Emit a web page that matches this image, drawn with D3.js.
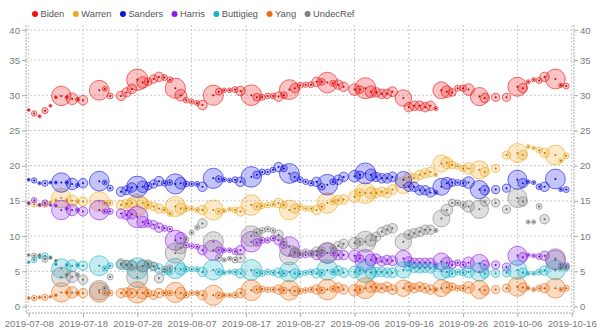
<!DOCTYPE html>
<html><head><meta charset="utf-8">
<script src="https://cdn.jsdelivr.net/npm/d3@7"></script>
<style>
body{margin:0;background:#fff}
svg{display:block;font-family:"Liberation Sans",Arial,Helvetica,sans-serif}
</style>
</head><body>
<svg id="chart" width="600" height="330"></svg>
<script>
const seriesNames = ["Biden","Warren","Sanders","Harris","Buttigieg","Yang","UndecRef"];
const seriesColors = ["#f01010","#f0a81e","#1414e6","#8c1ee6","#1ab4c8","#eb6e14","#808080"];

const pollDates = [
 "2019-07-08","2019-07-09","2019-07-10","2019-07-11","2019-07-12","2019-07-13","2019-07-14","2019-07-15","2019-07-16","2019-07-17","2019-07-18",
 "2019-07-21","2019-07-22","2019-07-23",
 "2019-07-25","2019-07-26","2019-07-27","2019-07-28","2019-07-29","2019-07-30","2019-07-31","2019-08-01","2019-08-02","2019-08-03","2019-08-04","2019-08-05","2019-08-06","2019-08-07","2019-08-08","2019-08-09",
 "2019-08-11","2019-08-12","2019-08-13","2019-08-14","2019-08-15","2019-08-16",
 "2019-08-18","2019-08-19","2019-08-20","2019-08-21","2019-08-22","2019-08-23","2019-08-24","2019-08-25","2019-08-26","2019-08-27","2019-08-28","2019-08-29","2019-08-30","2019-08-31","2019-09-01","2019-09-02","2019-09-03","2019-09-04",
 "2019-09-06","2019-09-07","2019-09-08","2019-09-09","2019-09-10","2019-09-11","2019-09-12","2019-09-13",
 "2019-09-15","2019-09-16","2019-09-17","2019-09-18","2019-09-19","2019-09-20","2019-09-21","2019-09-22","2019-09-23","2019-09-24","2019-09-25","2019-09-26","2019-09-27",
 "2019-09-29","2019-09-30","2019-10-02","2019-10-04",
 "2019-10-06","2019-10-07","2019-10-08","2019-10-09","2019-10-10","2019-10-11",
 "2019-10-13","2019-10-14","2019-10-15"
];

const sampleSizes = [
 300,1000,400,1300,300,300,12500,400,4500,600,3000,
 13000,800,1200,
 3000,2800,3000,15000,4500,2000,2400,3000,1200,1100,13500,4500,1100,900,900,3000,
 13500,1500,700,700,1200,3000,
 14000,2000,1200,1100,1000,3000,1500,13000,3000,1200,1000,1100,3000,1500,14000,1200,3000,3000,
 4500,2000,14500,4500,3000,3000,3000,3200,
 9000,3000,3000,3000,3000,3000,600,9500,4500,2000,1200,1500,4500,
 11000,3000,2200,2200,
 12000,3000,600,600,1200,3000,
 13000,600,1200
];

const biden = [
 27.9,27.4,27.0,27.8,28.5,29.7,29.9,29.7,29.5,29.4,29.3,
 30.7,30.9,29.9,
 29.9,30.4,30.9,32.2,31.8,31.9,32.3,32.6,32.5,32.2,31.0,30.0,29.3,29.1,28.9,28.6,
 30.0,30.5,30.7,30.7,30.8,30.6,
 30.0,29.7,29.7,29.9,29.9,29.8,30.0,30.8,31.0,31.4,31.5,31.5,31.9,31.9,31.8,31.7,31.5,31.2,
 30.8,30.8,31.0,30.5,30.4,30.2,30.2,30.5,
 29.6,28.3,28.5,28.5,28.3,28.5,28.1,30.7,30.5,30.4,31.0,31.0,30.8,
 29.8,29.6,29.7,29.7,
 31.2,31.0,31.9,32.2,32.1,32.6,
 32.3,31.4,31.3
];
const warren = [
 14.6,14.5,14.4,14.5,14.8,15.1,15.4,15.1,15.0,14.9,14.9,
 14.9,14.7,14.7,
 14.4,14.6,14.7,14.4,14.7,14.4,14.2,13.9,13.7,13.2,14.2,13.9,13.9,13.9,13.7,13.7,
 13.7,13.5,13.6,13.8,13.7,13.5,
 14.4,14.2,14.3,14.4,14.5,14.7,14.4,13.7,13.9,14.2,13.9,13.9,13.7,14.2,14.7,14.9,15.1,15.2,
 15.6,16.2,16.1,16.1,16.1,16.3,16.1,16.6,
 17.2,18.4,18.2,18.7,18.9,19.1,18.7,20.3,20.4,20.1,19.9,19.6,19.6,
 19.4,19.1,19.6,21.5,
 21.8,21.5,22.7,22.5,22.2,21.8,
 21.5,20.7,21.4
];
const sanders = [
 18.0,17.9,17.5,17.5,17.6,17.6,17.6,17.6,17.4,17.2,17.5,
 17.8,17.6,16.8,
 16.3,16.5,16.9,17.0,17.0,17.1,17.4,17.8,17.5,17.6,17.4,17.5,17.4,17.4,17.4,17.0,
 18.2,18.1,18.0,17.9,18.0,17.7,
 18.4,18.7,19.1,19.1,19.4,19.8,19.6,18.9,18.4,18.0,17.7,17.5,17.7,17.0,17.3,17.7,18.0,18.4,
 18.5,18.7,18.9,18.7,18.4,18.2,18.2,18.4,
 18.0,17.0,17.0,16.5,16.5,16.2,16.2,17.0,17.5,17.6,17.6,17.5,17.6,
 16.6,16.5,16.6,16.8,
 18.0,17.5,17.7,17.6,17.0,17.0,
 18.1,16.6,16.6
];
const harris = [
 14.7,15.1,14.4,14.7,14.4,14.3,13.7,13.9,13.7,13.7,13.5,
 13.7,13.5,13.5,
 13.2,13.0,13.1,12.7,12.0,11.8,11.6,11.2,11.1,11.0,9.4,9.7,8.7,8.6,8.5,8.0,
 8.0,8.0,8.0,8.0,7.8,8.0,
 9.2,9.1,9.4,9.4,9.7,9.4,8.7,8.5,7.6,7.3,7.3,7.6,7.3,7.6,7.6,7.6,7.3,7.3,
 7.2,6.8,6.6,6.6,6.8,6.4,6.6,6.5,
 6.8,6.4,6.2,6.2,6.2,6.2,5.9,6.4,6.2,5.9,6.2,5.9,6.2,
 6.1,5.9,5.9,5.6,
 7.2,7.0,7.3,7.2,7.1,7.2,
 6.6,5.9,5.8
];
const buttigieg = [
 6.3,6.6,7.0,7.2,7.0,6.0,5.4,5.9,5.8,5.9,5.8,
 5.8,5.4,5.8,
 5.9,5.9,5.8,5.4,5.8,5.9,5.7,5.4,4.9,4.9,5.4,5.3,5.3,5.3,5.3,4.9,
 5.2,4.9,4.8,4.9,4.9,4.7,
 5.2,4.8,4.7,4.9,4.8,4.8,4.7,4.9,4.7,4.6,4.8,4.9,4.7,4.8,5.2,4.9,5.1,4.8,
 4.9,5.1,4.9,4.8,4.9,4.9,4.8,4.8,
 5.2,5.7,5.5,5.4,5.5,5.4,5.5,5.0,4.9,4.7,4.9,4.8,4.9,
 4.9,4.7,4.7,4.8,
 5.2,4.8,4.7,4.7,4.9,5.1,
 5.2,5.4,5.5
];
const yang = [
 1.2,1.2,1.3,1.3,1.4,1.6,2.0,2.0,2.0,1.9,1.9,
 2.0,1.9,1.9,
 1.9,2.0,1.9,2.0,1.9,1.9,1.6,1.9,1.9,1.9,2.0,1.9,1.6,1.9,1.9,1.6,
 1.6,1.6,1.6,1.6,1.6,1.9,
 2.3,2.4,2.5,2.4,2.4,2.4,2.3,2.3,2.2,2.2,2.3,2.4,2.4,2.3,2.4,2.5,2.7,2.4,
 2.3,2.4,2.6,2.8,2.7,2.6,2.8,2.4,
 2.6,2.8,2.6,2.8,2.6,2.4,2.4,2.6,2.7,2.8,2.6,2.6,2.7,
 2.4,2.3,2.4,2.6,
 2.8,2.7,2.6,2.4,2.6,2.6,
 2.6,2.4,2.6
];
const undecRef = [
 7.3,7.2,7.3,6.7,6.9,6.5,4.2,4.5,4.2,4.5,3.8,
 2.3,2.6,4.2,
 6.1,5.9,5.9,4.2,5.7,6.1,5.7,4.0,5.3,5.5,7.6,8.3,9.5,10.5,11.2,11.8,
 9.2,6.9,6.6,6.8,6.6,6.9,
 10.0,10.5,10.8,11.0,10.8,10.2,9.2,7.3,7.8,7.6,7.8,7.4,7.8,8.0,7.6,8.3,8.6,8.9,
 9.0,9.2,9.2,9.4,9.9,10.6,10.9,11.1,
 9.2,10.2,10.4,10.6,10.9,10.9,10.8,12.5,13.7,14.7,14.7,14.4,14.2,
 13.8,14.9,14.7,13.8,
 15.4,14.9,12.0,12.0,14.2,12.4,
 6.8,5.5,5.6
];
const seriesValues = [biden, warren, sanders, harris, buttigieg, yang, undecRef];

const yTickValues = [0,5,10,15,20,25,30,35,40];
const xTickLabels = ["2019-07-08","2019-07-18","2019-07-28","2019-08-07","2019-08-17","2019-08-27","2019-09-06","2019-09-16","2019-09-26","2019-10-06","2019-10-16"];

// ---------------- drawing ----------------
const svg = d3.select("#chart");
const parse = d3.utcParse("%Y-%m-%d");
const plot = {left: 26, right: 574, top: 25, bottom: 313};

const x = d3.scaleUtc()
  .domain([parse(xTickLabels[0]), parse(xTickLabels[xTickLabels.length - 1])])
  .range([28.7, 571.7]);
const y = d3.scaleLinear().domain([0, 35, 40]).range([306.5, 60, 30]);
const r = d3.scaleSqrt().domain([0, 16000]).range([0, 11]);

const gridColor = "#c8c8c8";
const textColor = "#7a7a7a";
const axisFont = "9.6px";

// grid
const grid = svg.append("g");
grid.selectAll("line.h").data(yTickValues).join("line")
  .attr("x1", plot.left).attr("x2", plot.right)
  .attr("y1", d => y(d)).attr("y2", d => y(d))
  .attr("stroke", gridColor).attr("stroke-dasharray", "2,2");
grid.selectAll("line.v").data(xTickLabels).join("line")
  .attr("x1", d => x(parse(d))).attr("x2", d => x(parse(d)))
  .attr("y1", plot.top).attr("y2", plot.bottom)
  .attr("stroke", gridColor).attr("stroke-dasharray", "2,2");

// axes
const leftAxis = d3.axisLeft(y).tickValues(yTickValues).tickSize(4).tickPadding(2).tickFormat(d3.format("d"));
const rightAxis = d3.axisRight(y).tickValues(yTickValues).tickSize(4).tickPadding(2).tickFormat(d3.format("d"));
const bottomAxis = d3.axisBottom(x).tickValues(xTickLabels.map(parse)).tickSize(4).tickPadding(3).tickFormat(d3.utcFormat("%Y-%m-%d"));

function styleAxis(g) {
  g.select(".domain").remove();
  g.selectAll(".tick line").attr("stroke", "#aaa");
  g.selectAll(".tick text").attr("fill", textColor).style("font-size", axisFont);
}
svg.append("g").attr("transform", `translate(${plot.left},0)`).call(leftAxis).call(styleAxis);
svg.append("g").attr("transform", `translate(${plot.right},0)`).call(rightAxis).call(styleAxis);
svg.append("g").attr("transform", `translate(0,${plot.bottom})`).call(bottomAxis).call(styleAxis);

// axis frame lines (dotted)
svg.append("line").attr("x1", plot.left).attr("x2", plot.left).attr("y1", plot.top).attr("y2", plot.bottom)
  .attr("stroke", "#aaa").attr("stroke-dasharray", "2,1");
svg.append("line").attr("x1", plot.right).attr("x2", plot.right).attr("y1", plot.top).attr("y2", plot.bottom)
  .attr("stroke", "#aaa").attr("stroke-dasharray", "2,1");
svg.append("line").attr("x1", plot.left).attr("x2", plot.right).attr("y1", plot.bottom).attr("y2", plot.bottom)
  .attr("stroke", "#aaa").attr("stroke-dasharray", "2,1");

// bubbles
const marks = svg.append("g");
seriesNames.forEach((name, si) => {
  const color = seriesColors[si];
  const pts = pollDates.map((d, i) => ({date: parse(d), v: seriesValues[si][i], n: sampleSizes[i]}));
  const g = marks.append("g");
  g.selectAll("circle.b").data(pts).join("circle")
    .attr("cx", d => x(d.date)).attr("cy", d => y(d.v)).attr("r", d => r(d.n))
    .attr("fill", color).attr("fill-opacity", 0.25)
    .attr("stroke", color).attr("stroke-opacity", 0.6).attr("stroke-width", 1);
  g.selectAll("circle.c").data(pts).join("circle")
    .attr("cx", d => x(d.date)).attr("cy", d => y(d.v)).attr("r", 1)
    .attr("fill", d3.color(color).darker(0.8));
});

// legend
const legend = svg.append("g").attr("transform", "translate(35,14)");
let lx = 0;
seriesNames.forEach((name, si) => {
  const item = legend.append("g").attr("transform", `translate(${lx},0)`);
  item.append("circle").attr("r", 3).attr("fill", seriesColors[si]);
  const t = item.append("text").attr("x", 5.5).attr("dy", "0.35em")
    .attr("fill", "#555").style("font-size", "9.3px").text(name);
  lx += 5.5 + t.node().getComputedTextLength() + 11.5;
});
</script>
</body></html>
